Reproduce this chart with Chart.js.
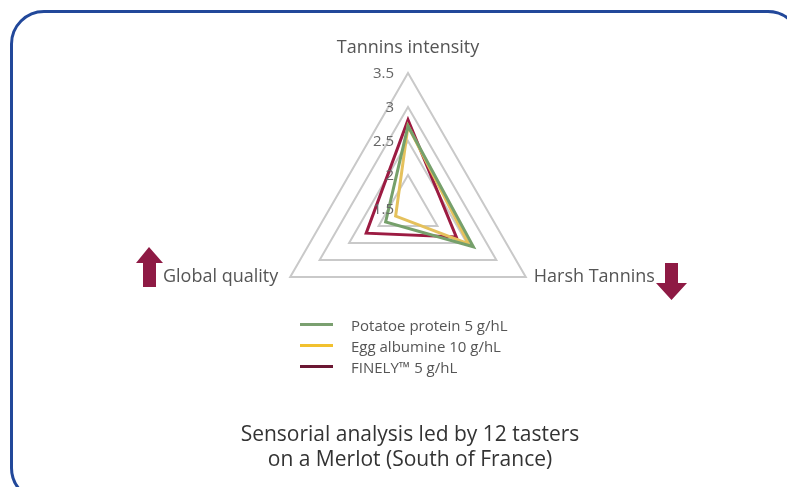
<!DOCTYPE html>
<html>
<head>
<meta charset="utf-8">
<script src="https://cdn.jsdelivr.net/npm/chart.js@4.4.1/dist/chart.umd.min.js"></script>
<style>
  html, body { margin: 0; padding: 0; background: #fff; }
  #wrap { position: relative; width: 787px; height: 487px; overflow: hidden; font-family: "Open Sans", sans-serif; }
  #frame {
    position: absolute; left: 10px; top: 10px; width: 792px; height: 492px;
    border: 3px solid #22489a; border-radius: 34px; box-sizing: border-box;
  }
  #chart { position: absolute; left: 0; top: 0; }
  #legende { position: absolute; left: 300px; top: 314px; }
  .satir { height: 21px; display: flex; align-items: center; font-size: 15px; color: #555; }
  .cizgi { width: 33px; height: 3px; margin-right: 18px; }
  #baslik {
    position: absolute; left: 0; width: 820px; top: 421px; text-align: center;
    font-size: 21px; line-height: 25px; color: #333;
  }
  svg.ok { position: absolute; }
</style>
</head>
<body>
<div id="wrap">
  <div id="frame"></div>
  <canvas id="chart" width="787" height="487"></canvas>
  <svg class="ok" style="left:130px;top:240px" width="40" height="50">
    <polygon points="19,7 33,23 26,23 26,47 13,47 13,23 6,23" fill="#8e1a44"/>
  </svg>
  <svg class="ok" style="left:650px;top:258px" width="40" height="50">
    <polygon points="15,5 28,5 28,25 37,25 21.5,42 6,25 15,25" fill="#8e1a44"/>
  </svg>
  <div id="legende"></div>
  <div id="baslik">Sensorial analysis led by 12 tasters<br>on a Merlot (South of France)</div>
</div>
<script>
// Eksenler (kategoriler)
const kriterler = ['Tannins intensity', 'Harsh Tannins', 'Global quality'];

// Seriler
const patatesProteini = [2.72, 2.61, 1.88];
const yumurtaAlbumini = [2.72, 2.53, 1.71];
const finely = [2.81, 2.32, 2.21];

// Ölçek etiketleri
const olcekMin = 1.5;
const olcekMax = 3.5;
const olcekAdim = 0.5;

const seriler = [
  { label: 'Potatoe protein 5 g/hL', data: patatesProteini, renk: '#76a06b', lejant: '#7aa070' },
  { label: 'Egg albumine 10 g/hL', data: yumurtaAlbumini, renk: '#e5c15c', lejant: '#f2c12e' },
  { label: 'FINELY\u2122 5 g/hL', data: finely, renk: '#9c1b42', lejant: '#6b1733' }
];

// Tick ve eksen etiketlerini kendimiz çiziyoruz (referanstaki yerleşim için)
const etiketEklentisi = {
  id: 'etiketler',
  afterDraw(chart) {
    const olcek = chart.scales.r;
    const ctx = chart.ctx;
    ctx.save();
    // tick etiketleri: eksenin solunda, sağa hizalı
    ctx.font = '15px "Open Sans"';
    ctx.fillStyle = '#666';
    ctx.textAlign = 'right';
    ctx.textBaseline = 'middle';
    olcek.ticks.forEach(t => {
      const y = olcek.yCenter - olcek.getDistanceFromCenterForValue(t.value);
      ctx.fillText(String(t.value), olcek.xCenter - 14, y + 1);
    });
    // eksen adları
    ctx.font = '18px "Open Sans"';
    ctx.fillStyle = '#555';
    const r = olcek.drawingArea;
    chart.data.labels.forEach((ad, i) => {
      const p = olcek.getPointPosition(i, r);
      if (i === 0) {
        ctx.textAlign = 'center';
        ctx.fillText(ad, p.x, p.y - 25);
      } else if (p.x > olcek.xCenter) {
        ctx.textAlign = 'left';
        ctx.fillText(ad, p.x + 8, p.y);
      } else {
        ctx.textAlign = 'right';
        ctx.fillText(ad, p.x - 12, p.y);
      }
    });
    ctx.restore();
  }
};

const ctx = document.getElementById('chart').getContext('2d');
const grafik = new Chart(ctx, {
  type: 'radar',
  data: {
    labels: kriterler,
    datasets: seriler.map(s => ({
      label: s.label,
      data: s.data,
      borderColor: s.renk,
      backgroundColor: 'transparent',
      borderWidth: 3,
      pointRadius: 0,
      fill: false
    }))
  },
  options: {
    responsive: false,
    animation: false,
    layout: { padding: { top: 73, bottom: 142, left: 272, right: 243 } },
    plugins: {
      legend: { display: false },
      tooltip: { enabled: false }
    },
    scales: {
      r: {
        min: olcekMin,
        max: olcekMax,
        ticks: { display: false, stepSize: olcekAdim },
        grid: { color: '#c9c9c9', lineWidth: 2 },
        angleLines: { display: false },
        pointLabels: { display: false }
      }
    }
  },
  plugins: [etiketEklentisi]
});

// HTML lejant
const lejant = document.getElementById('legende');
seriler.forEach(s => {
  const satir = document.createElement('div');
  satir.className = 'satir';
  satir.innerHTML = '<span class="cizgi" style="background:' + s.lejant + '"></span>' + s.label;
  lejant.appendChild(satir);
});
</script>
</body>
</html>
